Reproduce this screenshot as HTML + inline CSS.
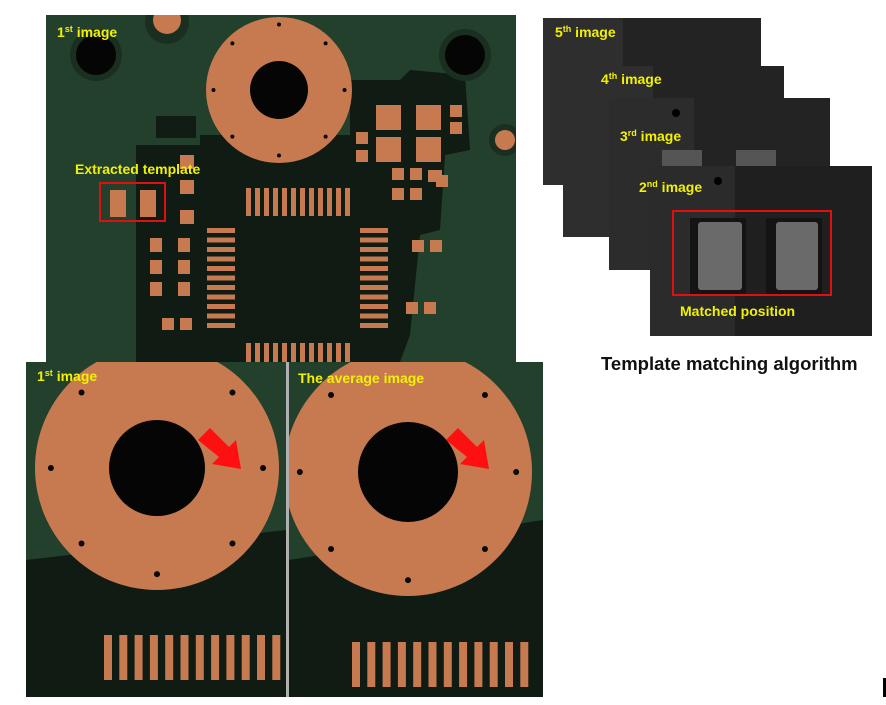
<!DOCTYPE html>
<html><head><meta charset="utf-8"><style>
html,body{margin:0;padding:0;background:#fff;width:886px;height:705px;overflow:hidden}
svg{display:block}
text{font-family:"Liberation Sans",sans-serif;font-weight:bold}
</style></head><body>
<svg id="s" width="886" height="705" viewBox="0 0 886 705" xmlns="http://www.w3.org/2000/svg">
<defs>
<clipPath id="cTop"><rect x="46" y="15" width="470" height="347"/></clipPath>
<clipPath id="cL"><rect x="26" y="362" width="260" height="335"/></clipPath>
<clipPath id="cR"><rect x="289" y="362" width="254" height="335"/></clipPath>
</defs>
<!-- top PCB -->
<g clip-path="url(#cTop)">
<rect x="46" y="15" width="470" height="347" fill="#22402b"/>
<path d="M136 145 L200 145 L200 135 L350 135 L350 80 L400 80 L410 70 L465 75 L470 150 L445 155 L440 230 L420 235 L410 335 L400 362 L136 362 Z" fill="#0f1b13"/>
<circle cx="279" cy="90" r="73" fill="#c77a50"/>
<circle cx="279" cy="90" r="29" fill="#050505"/>
<circle cx="96" cy="55" r="26" fill="#1a2f20"/><circle cx="96" cy="55" r="20" fill="#050505"/>
<circle cx="465" cy="55" r="26" fill="#1a2f20"/><circle cx="465" cy="55" r="20" fill="#050505"/>
<circle cx="167" cy="22" r="22" fill="#1a2f20"/><circle cx="167" cy="20" r="14" fill="#c77a50"/>
<circle cx="505" cy="140" r="16" fill="#1a2f20"/><circle cx="505" cy="140" r="10" fill="#c77a50"/>
<rect x="156" y="116" width="40" height="22" fill="#101c14"/>
</g>
<g fill="#c77a50">
<rect x="376" y="105" width="25" height="25"/><rect x="416" y="105" width="25" height="25"/>
<rect x="376" y="137" width="25" height="25"/><rect x="416" y="137" width="25" height="25"/>
<rect x="450" y="105" width="12" height="12"/><rect x="450" y="122" width="12" height="12"/>
<rect x="356" y="132" width="12" height="12"/><rect x="356" y="150" width="12" height="12"/>
<rect x="110" y="190" width="16" height="27"/><rect x="140" y="190" width="16" height="27"/>
<rect x="180" y="155" width="14" height="14"/><rect x="180" y="180" width="14" height="14"/><rect x="180" y="210" width="14" height="14"/>
<rect x="150" y="238" width="12" height="14"/><rect x="178" y="238" width="12" height="14"/>
<rect x="150" y="260" width="12" height="14"/><rect x="178" y="260" width="12" height="14"/>
<rect x="150" y="282" width="12" height="14"/><rect x="178" y="282" width="12" height="14"/>
<rect x="162" y="318" width="12" height="12"/><rect x="180" y="318" width="12" height="12"/>
<rect x="392" y="168" width="12" height="12"/><rect x="410" y="168" width="12" height="12"/>
<rect x="392" y="188" width="12" height="12"/><rect x="410" y="188" width="12" height="12"/>
<rect x="412" y="240" width="12" height="12"/><rect x="430" y="240" width="12" height="12"/>
<rect x="406" y="302" width="12" height="12"/><rect x="424" y="302" width="12" height="12"/>
<rect x="428" y="170" width="14" height="12"/><rect x="436" y="175" width="12" height="12"/>
</g>
<g id="qfp" fill="#c77a50"></g>
<rect x="100" y="183" width="65" height="38" fill="none" stroke="#e01010" stroke-width="2"/>
<text x="57" y="37" font-size="14" fill="#f2f200">1<tspan font-size="9" dy="-5">st</tspan><tspan dy="5"> image</tspan></text>
<text x="75" y="174" font-size="14" fill="#f2f200">Extracted template</text>

<!-- bottom left -->
<g clip-path="url(#cL)">
<rect x="26" y="362" width="260" height="335" fill="#0f1b13"/>
<path d="M26 362 L286 362 L286 530 L26 560 Z" fill="#22402b"/>
<circle cx="157" cy="468" r="122" fill="#c77a50"/>
<circle cx="157" cy="468" r="48" fill="#050505"/>
</g>
<!-- bottom mid -->
<rect x="286" y="362" width="3" height="335" fill="#b0b0b0"/>
<g clip-path="url(#cR)">
<rect x="289" y="362" width="254" height="335" fill="#0f1b13"/>
<path d="M289 362 L543 362 L543 520 L289 560 Z" fill="#22402b"/>
<circle cx="408" cy="472" r="124" fill="#c77a50"/>
<circle cx="408" cy="472" r="50" fill="#050505"/>
</g>
<g id="bot" fill="#c77a50"></g>
<g id="dots" fill="#080808"></g>
<polygon points="198,440 210,428 229,447 236,440 241,469 212,464 219,457" fill="#ff1010"/>
<polygon points="446,440 458,428 477,447 484,440 489,469 460,464 467,457" fill="#ff1010"/>
<text x="37" y="381" font-size="14" fill="#f2f200">1<tspan font-size="9" dy="-5">st</tspan><tspan dy="5"> image</tspan></text>
<text x="298" y="383" font-size="14" fill="#f2f200">The average image</text>

<!-- right stack -->
<rect x="543" y="18" width="218" height="167" fill="#232323"/><rect x="543" y="18" width="80" height="167" fill="#2e2e2e"/>
<rect x="563" y="66" width="221" height="171" fill="#232323"/><rect x="563" y="66" width="90" height="171" fill="#2e2e2e"/>
<rect x="609" y="98" width="221" height="172" fill="#232323"/><rect x="609" y="98" width="85" height="172" fill="#2c2c2c"/>
<rect x="650" y="166" width="222" height="170" fill="#1f1f1f"/><rect x="650" y="166" width="85" height="170" fill="#2b2b2b"/>
<rect x="662" y="150" width="40" height="16" fill="#555"/><rect x="736" y="150" width="40" height="16" fill="#555"/>
<rect x="690" y="218" width="56" height="76" fill="#141414"/><rect x="766" y="218" width="56" height="76" fill="#141414"/>
<rect x="698" y="222" width="44" height="68" rx="3" fill="#6a6a6a"/>
<rect x="776" y="222" width="42" height="68" rx="3" fill="#6a6a6a"/>
<rect x="673" y="211" width="158" height="84" fill="none" stroke="#e01010" stroke-width="2"/>
<circle cx="718" cy="181" r="4" fill="#000"/><circle cx="676" cy="113" r="4" fill="#000"/>
<text x="555" y="37" font-size="14" fill="#f2f200">5<tspan font-size="9" dy="-5">th</tspan><tspan dy="5">  image</tspan></text>
<text x="601" y="84" font-size="14" fill="#f2f200">4<tspan font-size="9" dy="-5">th</tspan><tspan dy="5">  image</tspan></text>
<text x="620" y="141" font-size="14" fill="#f2f200">3<tspan font-size="9" dy="-5">rd</tspan><tspan dy="5">   image</tspan></text>
<text x="639" y="192" font-size="14" fill="#f2f200">2<tspan font-size="9" dy="-5">nd</tspan><tspan dy="5">    image</tspan></text>
<text x="680" y="316" font-size="14" fill="#f2f200">Matched position</text>
<text x="601" y="370" font-size="18.5" fill="#111">Template matching algorithm</text>
<rect x="883" y="678" width="3" height="19" fill="#000"/>
</svg>
<script>
var ns="http://www.w3.org/2000/svg";
function r(g,x,y,w,h){var e=document.createElementNS(ns,"rect");e.setAttribute("x",x);e.setAttribute("y",y);e.setAttribute("width",w);e.setAttribute("height",h);document.getElementById(g).appendChild(e);}
function c(g,x,y,rr){var e=document.createElementNS(ns,"circle");e.setAttribute("cx",x);e.setAttribute("cy",y);e.setAttribute("r",rr);document.getElementById(g).appendChild(e);}
for(var i=0;i<12;i++){r("qfp",246+i*9,188,5,28);r("qfp",246+i*9,343,5,19);}
for(var i=0;i<11;i++){r("qfp",207,228+i*9.5,28,5);r("qfp",360,228+i*9.5,28,5);}
for(var i=0;i<12;i++){r("bot",104+i*15.3,635,8,45);r("bot",352+i*15.3,642,8,45);}
[[0,-104],[0,104],[-104,0],[104,0],[-74,-74],[74,-74],[-74,74],[74,74]].forEach(function(d){if(468+d[1]*1.02>366)c("dots",157+d[0]*1.02,468+d[1]*1.02,3);if(472+d[1]*1.04>366)c("dots",408+d[0]*1.04,472+d[1]*1.04,3);c("dots",279+d[0]*0.63,90+d[1]*0.63,2);});
</script>
</body></html>
